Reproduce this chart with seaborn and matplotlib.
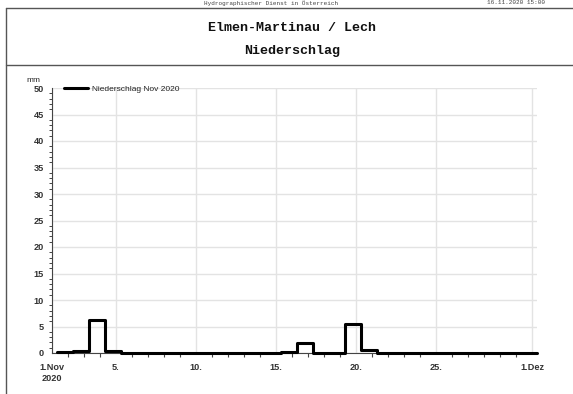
import numpy as np
import pandas as pd
import seaborn as sns
import matplotlib.pyplot as plt
from matplotlib.lines import Line2D
from matplotlib.ticker import FixedLocator, MultipleLocator

# daily precipitation (mm), Nov 2020, bins run 07:00 -> 07:00 next day
days = list(range(1, 31))
precip = [0.1, 0.3, 6.2, 0.3, 0, 0, 0, 0, 0, 0,
          0, 0, 0, 0, 0.2, 1.8, 0, 0, 5.4, 0.5,
          0, 0, 0, 0, 0, 0, 0, 0, 0, 0]
tick_days = [1, 5, 10, 15, 20, 25, 31]
tick_labels = ["1.Nov\n2020", "5.", "10.", "15.", "20.", "25.", "1.Dez"]
series_name = "Niederschlag Nov 2020"

W, H = 573, 394
sns.set_style("white")
plt.rcParams['font.family'] = ['Liberation Sans', 'DejaVu Sans']

fig = plt.figure(figsize=(W / 100, H / 100), dpi=100)

# header box
line_col = "#555555"
fig.add_artist(Line2D([6 / W, 6 / W], [0, 1 - 8 / H], transform=fig.transFigure, color=line_col, lw=1.0))
fig.add_artist(Line2D([6 / W, 1], [1 - 8 / H, 1 - 8 / H], transform=fig.transFigure, color=line_col, lw=1.0))
fig.add_artist(Line2D([6 / W, 1], [1 - 65 / H, 1 - 65 / H], transform=fig.transFigure, color=line_col, lw=1.0))
fig.text(292 / W, 1 - 28 / H, "Elmen-Martinau / Lech", ha="center", va="center",
         family="Liberation Mono", weight="bold", fontsize=9.6, color="#111111")
fig.text(292 / W, 1 - 51 / H, "Niederschlag", ha="center", va="center",
         family="Liberation Mono", weight="bold", fontsize=9.6, color="#111111")
fig.text(271 / W, 1 - 0.5 / H, "Hydrographischer Dienst in Österreich", ha="center", va="top",
         family="Liberation Mono", fontsize=4.3, color="#444444")
fig.text(487 / W, 1 - 0.5 / H, "16.11.2020 15:00", ha="left", va="top",
         family="Liberation Mono", fontsize=4.3, color="#444444")

ax = fig.add_axes([52 / W, 1 - 353 / H, (537 - 52) / W, (353 - 88) / H])

# step line from bin edges
offset = 7 / 24
edges = [d + offset for d in days] + [days[-1] + 1 + offset]
vals = precip + [precip[-1]]
df = pd.DataFrame({"x": edges, "y": vals})
sns.lineplot(data=df, x="x", y="y", drawstyle="steps-post", color="black",
             lw=2.2, ax=ax, label=series_name, clip_on=False, zorder=5)

ax.set_xlim(1, 31.3)
ax.set_ylim(0, 50)
ax.set_xlabel("")
ax.set_ylabel("")

ax.xaxis.set_major_locator(FixedLocator(tick_days))
ax.set_xticklabels(tick_labels)
ax.xaxis.set_minor_locator(MultipleLocator(1))
ax.yaxis.set_major_locator(MultipleLocator(5))
ax.yaxis.set_minor_locator(MultipleLocator(1))

ax.tick_params(axis="both", which="major", labelsize=6.6, labelcolor="#333333",
               color="#444444", width=0.8)
ax.tick_params(axis="x", which="major", length=5.5, pad=2)
ax.tick_params(axis="x", which="minor", length=3, color="#444444", width=0.8, bottom=True)
ax.tick_params(axis="y", which="major", length=4, pad=2)
ax.tick_params(axis="y", which="minor", length=2.2, color="#444444", width=0.7, left=True)
for lab in ax.get_xticklabels() + ax.get_yticklabels():
    lab.set_fontweight("bold")

ax.grid(True, which="major", color="#e3e3e3", lw=1.0)
for s in ["top", "right"]:
    ax.spines[s].set_visible(False)
ax.spines["left"].set_color("#444444")
ax.spines["left"].set_linewidth(0.8)
ax.spines["bottom"].set_color("#444444")
ax.spines["bottom"].set_linewidth(0.8)

fig.text(33 / W, 1 - 80 / H, "mm", ha="center", va="center", fontsize=6, color="#222222")

leg = ax.legend(loc="lower left", bbox_to_anchor=(0.025, 0.98), frameon=False,
                fontsize=6, handlelength=2.9, handletextpad=0.5, borderpad=0,
                borderaxespad=0)
for t in leg.get_texts():
    t.set_color("#222222")

fig.savefig("out.png", dpi=100)
